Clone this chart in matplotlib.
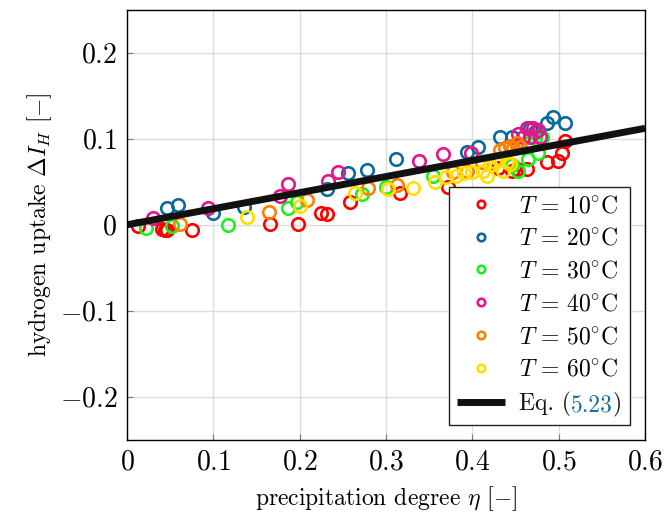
import matplotlib
matplotlib.use("Agg")
import matplotlib.pyplot as plt
from matplotlib.ticker import FuncFormatter
import numpy as np

plt.rcParams["font.family"] = "serif"
plt.rcParams["font.serif"] = ["cmr10", "DejaVu Serif"]
plt.rcParams["mathtext.fontset"] = "cm"
plt.rcParams["axes.formatter.use_mathtext"] = True

# precipitation degree eta / hydrogen uptake dI_H per temperature
eta_10 = [0.013, 0.041, 0.044, 0.046, 0.075, 0.166, 0.198, 0.225, 0.232, 0.258,
          0.316, 0.372, 0.430, 0.446, 0.452, 0.463, 0.487, 0.499, 0.504, 0.507]
dI_10 = [-0.001, -0.005, -0.006, -0.006, -0.006, 0.001, 0.001, 0.014, 0.013, 0.026,
         0.037, 0.044, 0.066, 0.063, 0.065, 0.065, 0.073, 0.074, 0.083, 0.098]

eta_20 = [0.046, 0.059, 0.100, 0.136, 0.232, 0.256, 0.278, 0.312, 0.394, 0.407,
          0.432, 0.446, 0.467, 0.473, 0.487, 0.493, 0.507]
dI_20 = [0.019, 0.023, 0.014, 0.021, 0.042, 0.060, 0.064, 0.076, 0.085, 0.090,
         0.102, 0.102, 0.113, 0.108, 0.118, 0.125, 0.118]

eta_30 = [0.022, 0.052, 0.117, 0.186, 0.197, 0.272, 0.300, 0.354, 0.446, 0.453,
          0.464, 0.464, 0.473, 0.481, 0.476]
dI_30 = [-0.004, -0.001, 0.000, 0.019, 0.026, 0.036, 0.044, 0.057, 0.069, 0.063,
         0.077, 0.095, 0.101, 0.102, 0.084]

eta_40 = [0.030, 0.094, 0.177, 0.186, 0.233, 0.244, 0.338, 0.366, 0.398, 0.453,
          0.459, 0.463, 0.470, 0.476, 0.478, 0.467]
dI_40 = [0.008, 0.019, 0.034, 0.048, 0.051, 0.061, 0.074, 0.082, 0.084, 0.106,
         0.102, 0.112, 0.113, 0.110, 0.102, 0.102]

eta_50 = [0.061, 0.164, 0.208, 0.279, 0.313, 0.378, 0.394, 0.411, 0.430, 0.432,
          0.438, 0.444, 0.452, 0.447, 0.455]
dI_50 = [0.001, 0.015, 0.029, 0.043, 0.046, 0.061, 0.063, 0.073, 0.077, 0.087,
         0.089, 0.092, 0.095, 0.089, 0.090]

eta_60 = [0.139, 0.200, 0.264, 0.302, 0.331, 0.357, 0.370, 0.381, 0.390, 0.400,
          0.412, 0.417, 0.420, 0.426, 0.430, 0.436, 0.440, 0.444]
dI_60 = [0.009, 0.022, 0.037, 0.042, 0.043, 0.050, 0.055, 0.057, 0.060, 0.061,
         0.062, 0.057, 0.069, 0.073, 0.077, 0.063, 0.073, 0.071]

temps = [10, 20, 30, 40, 50, 60]
colors = ["#ff0000", "#0b6a9c", "#1ef01e", "#e3168c", "#ff8000", "#ffdf00"]
series = [(eta_10, dI_10), (eta_20, dI_20), (eta_30, dI_30),
          (eta_40, dI_40), (eta_50, dI_50), (eta_60, dI_60)]

# Eq. (5.23): linear fit through the origin
eq_eta = [0.0, 0.6]
eq_slope = 0.187


def fmt_tick(v, pos):
    if abs(v) < 1e-9:
        return "$0$"
    return f"${v:.1f}$"


fig = plt.figure(figsize=(6.65, 5.15), dpi=100)
ax = fig.add_axes([0.191, 0.146, 0.779, 0.835])

for (x, y), t, c in zip(series, temps, colors):
    ax.plot(x, y, linestyle="none", marker="o", markersize=9, markerfacecolor="none",
            markeredgecolor=c, markeredgewidth=1.9,
            label=rf"$T\,{{=}}\,{t}^{{\circ}}\mathrm{{C}}$")

ax.plot(eq_eta, [eq_slope * e for e in eq_eta], color="#111111", linewidth=5,
        solid_capstyle="butt", label="Eq. (5.23)")

ax.set_xlim(0, 0.6)
ax.set_ylim(-0.25, 0.25)
ax.set_xticks(np.arange(0, 0.61, 0.1))
ax.set_yticks([-0.2, -0.1, 0, 0.1, 0.2])
ax.xaxis.set_major_formatter(FuncFormatter(fmt_tick))
ax.yaxis.set_major_formatter(FuncFormatter(fmt_tick))
ax.tick_params(direction="in", length=4, width=0.8, color="#777777", labelsize=20, pad=7)
ax.grid(True, color="#dcdcdc", linewidth=1)
ax.set_axisbelow(True)
for s in ax.spines.values():
    s.set_linewidth(1)

ax.set_xlabel(r"precipitation degree $\eta$ [$-$]", fontsize=17, labelpad=6)
ax.set_ylabel(r"hydrogen uptake $\Delta I_H$ [$-$]", fontsize=17, labelpad=4)

leg = ax.legend(loc="lower right", bbox_to_anchor=(0.971, 0.035), borderaxespad=0,
                fontsize=17, markerscale=0.6,
                frameon=True, fancybox=False, edgecolor="#222222", framealpha=1,
                labelspacing=0.45, handlelength=2.0, handletextpad=0.6, borderpad=0.35)
leg.get_frame().set_linewidth(1)

# colour the equation number like a hyperlink
fig.canvas.draw()
renderer = fig.canvas.get_renderer()
eq_text = leg.get_texts()[-1]
bb = eq_text.get_window_extent(renderer)
eq_text.set_visible(False)
x0 = bb.x0
for part, col in [("Eq. (", "#111111"), ("5.23", "#1a6e9e"), (")", "#111111")]:
    t = fig.text(x0, bb.y0, part, fontsize=17, color=col, ha="left", va="bottom",
                 transform=None)
    fig.canvas.draw()
    x0 = t.get_window_extent(renderer).x1

fig.savefig("out.png", dpi=100)
